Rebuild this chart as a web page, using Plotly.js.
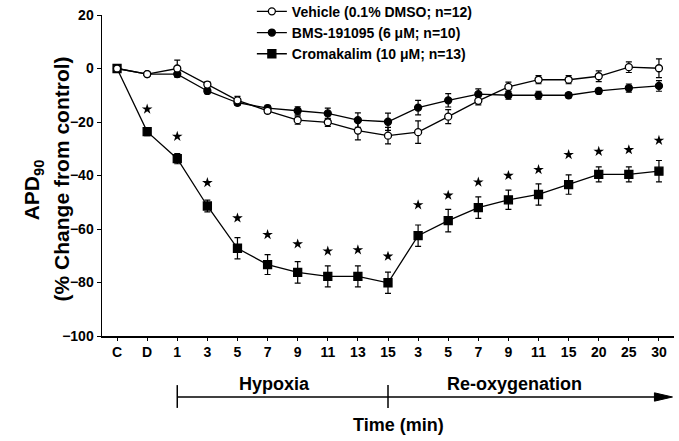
<!DOCTYPE html>
<html><head><meta charset="utf-8">
<script src="https://cdn.plot.ly/plotly-3.0.1.min.js"></script>
<style>html,body{margin:0;padding:0;background:#fff}#chart{width:679px;height:441px}</style>
</head><body><div id="chart"></div>
<script>
// Time points (C = control, D = drug, then hypoxia min 1..15, re-oxygenation min 3..30)
const timeLabels = ['C','D','1','3','5','7','9','11','13','15','3','5','7','9','11','15','20','25','30'];

const vehicle    = [0, -2.1, 0, -6, -11.9, -15.8, -19.3, -20.1, -23.2, -25.1, -23.8, -18, -12.1, -6.9, -4.2, -4.2, -2.9, 0.5, 0.1];
const vehicleErr = [0, 0.8, 3.1, 1, 1.5, 1, 1.5, 1.5, 3.5, 3.1, 4.2, 2.6, 1.5, 1.8, 1.5, 1.5, 2, 2, 3.5];

const bms    = [0, -2.1, -2.1, -8.4, -12.8, -14.8, -15.8, -16.8, -19.3, -19.9, -14.6, -11.9, -9.6, -10, -10, -10, -8.4, -7.3, -6.5];
const bmsErr = [0, 0.8, 1, 1, 1, 1, 1.5, 2, 2.7, 3.2, 2.7, 2.5, 2, 1.5, 1.5, 1, 1, 1.5, 2];

const cromakalim    = [0, -23.6, -33.7, -51.4, -67.2, -73.3, -76.2, -77.7, -77.7, -80.1, -62.5, -56.9, -52, -49.1, -47.1, -43.4, -39.6, -39.6, -38.4];
const cromakalimErr = [0, 1.5, 1.9, 2.2, 4, 3.7, 4, 3.9, 3.9, 4, 4, 4.2, 4, 3.6, 4, 3.6, 2.8, 2.8, 4];

// Significance markers (*) for cromakalim vs vehicle
const sigIndex = [1,2,3,4,5,6,7,8,9,10,11,12,13,14,15,16,17,18];
const sigY     = [-15.2, -25.4, -42.7, -55.9, -62.1, -65.6, -68.3, -67.8, -70.2, -51, -47.4, -42.5, -40, -37.8, -32.2, -31, -30.4, -26.9];

const xIdx = timeLabels.map((_, i) => i);
const FONT = 'Liberation Sans, Arial, Helvetica, sans-serif';

function series(name, y, err, symbol, size, fill, rank) {
  return {
    type: 'scatter', mode: 'lines+markers', name: name, legendrank: rank,
    x: xIdx, y: y,
    error_y: {type: 'data', array: err, visible: true, color: '#000', thickness: 1.2, width: 3},
    line: {color: '#000', width: 1.3},
    marker: {symbol: symbol, size: size, color: fill, line: {color: '#000', width: 1.3}}
  };
}

const traces = [
  series('BMS-191095 (6 μM; n=10)', bms, bmsErr, 'circle', 7, '#000', 2),
  series('Cromakalim (10 μM; n=13)', cromakalim, cromakalimErr, 'square', 8, '#000', 3),
  series('Vehicle (0.1% DMSO; n=12)', vehicle, vehicleErr, 'circle', 7, '#fff', 1),
  {
    type: 'scatter', mode: 'markers', showlegend: false, hoverinfo: 'skip',
    x: sigIndex, y: sigY,
    marker: {symbol: 'star', size: 8, color: '#000', line: {width: 0}}
  }
];

const layout = {
  width: 679, height: 441,
  margin: {l: 102, r: 5, t: 15, b: 105, autoexpand: false},
  paper_bgcolor: '#fff', plot_bgcolor: '#fff',
  font: {family: FONT, color: '#000', size: 14, weight: 'bold'},
  showlegend: true,
  legend: {
    x: 0.262, y: 1.06, xanchor: 'left', yanchor: 'top',
    bgcolor: 'rgba(0,0,0,0)', borderwidth: 0,
    font: {family: FONT, size: 14, color: '#000', weight: 'bold'},
    tracegroupgap: 0, itemwidth: 30
  },
  xaxis: {
    range: [-0.5, 18.5], tickmode: 'array', tickvals: xIdx, ticktext: timeLabels,
    showgrid: false, zeroline: false, showline: true, linecolor: '#000', linewidth: 1.5,
    ticks: 'outside', ticklen: 3, tickwidth: 1, tickcolor: '#000',
    tickfont: {family: FONT, size: 14, color: '#000', weight: 'bold'}
  },
  yaxis: {
    range: [-100, 20], tickmode: 'array', tickvals: [-100,-80,-60,-40,-20,0,20],
    showgrid: false, zeroline: false, showline: true, linecolor: '#000', linewidth: 1.5,
    ticks: 'outside', ticklen: 4, tickwidth: 1, tickcolor: '#000',
    tickfont: {family: FONT, size: 14, color: '#000', weight: 'bold'}
  },
  shapes: [
    // Hypoxia bracket + re-oxygenation arrow
    {type: 'line', xref: 'x', yref: 'paper', x0: 2, x1: 17.9, y0: -0.19, y1: -0.19, line: {color: '#000', width: 1.5}},
    {type: 'path', xref: 'x', yref: 'paper', path: 'M 17.85,-0.177 L 18.45,-0.19 L 17.85,-0.203 Z',
     fillcolor: '#000', line: {color: '#000', width: 1}},
    {type: 'line', xref: 'x', yref: 'paper', x0: 2, x1: 2, y0: -0.153, y1: -0.224, line: {color: '#000', width: 1.5}},
    {type: 'line', xref: 'x', yref: 'paper', x0: 9, x1: 9, y0: -0.153, y1: -0.224, line: {color: '#000', width: 1.5}}
  ],
  annotations: [
    {xref: 'paper', yref: 'paper', x: 0.3007, y: -0.149, xanchor: 'center', yanchor: 'middle', showarrow: false,
     text: 'Hypoxia', font: {family: FONT, size: 18, color: '#000', weight: 'bold'}},
    {xref: 'paper', yref: 'paper', x: 0.722, y: -0.149, xanchor: 'center', yanchor: 'middle', showarrow: false,
     text: 'Re-oxygenation', font: {family: FONT, size: 18, color: '#000', weight: 'bold'}},
    {xref: 'paper', yref: 'paper', x: 0.519, y: -0.277, xanchor: 'center', yanchor: 'middle', showarrow: false,
     text: 'Time (min)', font: {family: FONT, size: 18, color: '#000', weight: 'bold'}},
    {xref: 'paper', yref: 'paper', x: -0.12, y: 0.455, xanchor: 'center', yanchor: 'middle', showarrow: false,
     textangle: -90, text: 'APD<sub>90</sub>', font: {family: FONT, size: 21, color: '#000', weight: 'bold'}},
    {xref: 'paper', yref: 'paper', x: -0.071, y: 0.489, xanchor: 'center', yanchor: 'middle', showarrow: false,
     textangle: -90, text: '(% Change from control)', font: {family: FONT, size: 21, color: '#000', weight: 'bold'}}
  ]
};

Plotly.newPlot('chart', traces, layout, {staticPlot: true, displayModeBar: false});
</script>
</body></html>
